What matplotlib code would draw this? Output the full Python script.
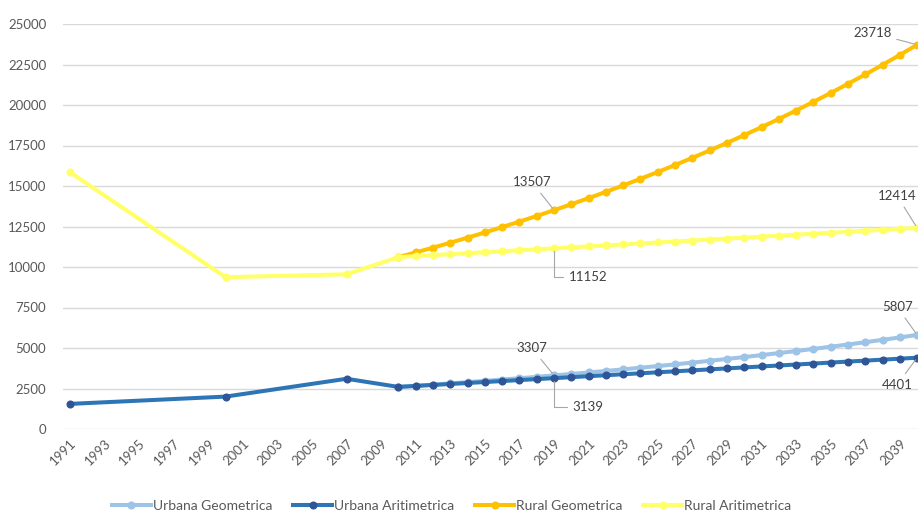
import matplotlib.pyplot as plt

plt.rcParams['font.family'] = ['Lato', 'DejaVu Sans']

# historical census years + yearly projection 2011-2040
hist_years = [1991, 2000, 2007]
urb_hist = [1550, 2000, 3100]
rur_hist = [15850, 9370, 9550]

proj_years = list(range(2010, 2041))
urb_geo = [2598, 2669, 2741, 2816, 2892, 2971, 3051, 3134, 3220, 3307,
           3397, 3489, 3584, 3681, 3782, 3884, 3990, 4098, 4209, 4324,
           4441, 4562, 4686, 4813, 4944, 5079, 5216, 5358, 5504, 5654, 5807]
urb_ari = [2598, 2658, 2718, 2779, 2839, 2899, 2959, 3019, 3079, 3139,
           3199, 3259, 3319, 3379, 3439, 3500, 3560, 3620, 3680, 3740,
           3800, 3860, 3920, 3980, 4040, 4101, 4161, 4221, 4281, 4341, 4401]
rur_geo = [10611, 10900, 11196, 11500, 11812, 12133, 12463, 12802, 13150, 13507,
           13874, 14251, 14638, 15036, 15445, 15864, 16295, 16738, 17193, 17660,
           18140, 18633, 19139, 19659, 20193, 20742, 21306, 21885, 22480, 23091, 23718]
rur_ari = [10611, 10671, 10731, 10792, 10852, 10912, 10972, 11032, 11092, 11152,
           11212, 11272, 11332, 11392, 11452, 11513, 11573, 11633, 11693, 11753,
           11813, 11873, 11933, 11993, 12053, 12114, 12174, 12234, 12294, 12354, 12414]

fig = plt.figure(figsize=(9.18, 5.14), dpi=100)
ax = fig.add_axes([63/918, 1 - 429/514, 1 - 63/918, (429 - 24)/514])

lw, ms = 2.9, 4.8
ax.plot(proj_years, urb_geo, color='#9DC3E6', lw=lw, marker='o', ms=ms, label='Urbana Geometrica', clip_on=False)
ax.plot(hist_years + proj_years, urb_hist + urb_ari, color='#2E75B6', lw=lw, marker='o', ms=ms,
        mfc='#2F5597', mec='#2F5597', label='Urbana Aritimetrica', clip_on=False)
ax.plot(proj_years, rur_geo, color='#FFC000', lw=lw, marker='o', ms=ms, label='Rural Geometrica', clip_on=False)
ax.plot(hist_years + proj_years, rur_hist + rur_ari, color='#FFFF66', lw=lw, marker='o', ms=ms,
        label='Rural Aritimetrica', clip_on=False)

ax.set_xlim(1990.6, 2040.05)
ax.set_ylim(0, 25000)
ax.set_yticks(range(0, 25001, 2500))
ax.set_xticks(range(1991, 2040, 2))
ax.tick_params(axis='both', length=0, labelsize=9.5, colors='#595959')
ax.tick_params(axis='y', pad=12)
ax.tick_params(axis='x', pad=6)
plt.setp(ax.get_xticklabels(), rotation=45, ha='right', rotation_mode='anchor')
ax.grid(axis='y', color='#D9D9D9', lw=1)
ax.set_axisbelow(True)
for s in ax.spines.values():
    s.set_visible(False)

# data labels
lab = dict(fontsize=9.5, color='#404040', textcoords='offset pixels')
line = dict(arrowstyle='-', color='#A6A6A6', lw=0.8, shrinkA=2, shrinkB=2)
i19 = proj_years.index(2019)
ax.annotate(str(rur_geo[-1]), (2040, rur_geo[-1]), xytext=(-45, 12), ha='center', va='center', arrowprops=line, **lab)
ax.annotate(str(rur_geo[i19]), (2019, rur_geo[i19]), xytext=(-22, 28), ha='center', va='center', arrowprops=line, **lab)
ax.annotate(str(rur_ari[-1]), (2040, rur_ari[-1]), xytext=(-20, 32), ha='center', va='center', arrowprops=line, **lab)
ax.annotate(str(rur_ari[i19]), (2019, rur_ari[i19]), xytext=(34, -29), ha='center', va='center',
            arrowprops=dict(line, connectionstyle='angle,angleA=0,angleB=90,rad=0'), **lab)
ax.annotate(str(urb_geo[-1]), (2040, urb_geo[-1]), xytext=(-20, 28), ha='center', va='center', arrowprops=line, **lab)
ax.annotate(str(urb_ari[-1]), (2040, urb_ari[-1]), xytext=(-20, -27), ha='center', va='center', arrowprops=line, **lab)
ax.annotate(str(urb_geo[i19]), (2019, urb_geo[i19]), xytext=(-22, 27), ha='center', va='center', arrowprops=line, **lab)
ax.annotate(str(urb_ari[i19]), (2019, urb_ari[i19]), xytext=(34, -29), ha='center', va='center',
            arrowprops=dict(line, connectionstyle='angle,angleA=0,angleB=90,rad=0'), **lab)

fig.legend(loc='center', bbox_to_anchor=(0.492, 1 - 506/514), ncol=4, frameon=False, fontsize=10,
           handlelength=2.8, handletextpad=0.15, columnspacing=1.5, labelcolor='#595959')

fig.savefig('out.png', dpi=100)
